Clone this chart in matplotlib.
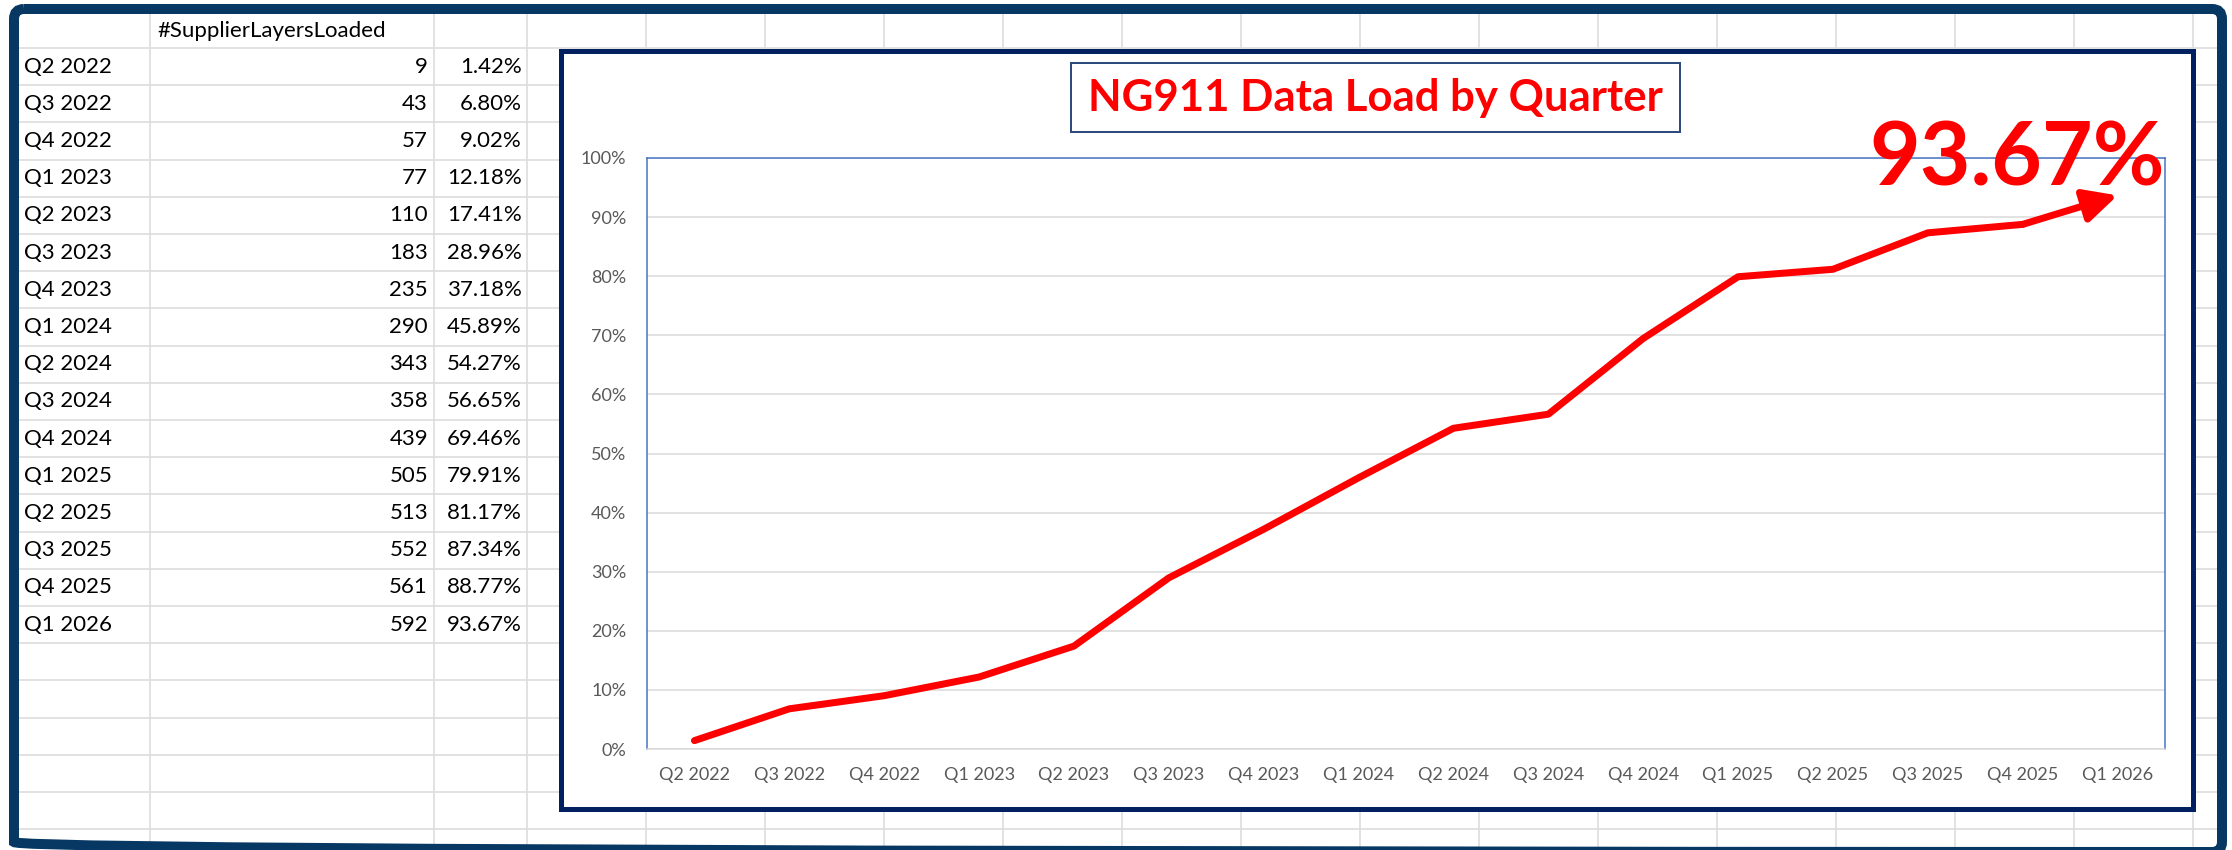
import numpy as np
import matplotlib.pyplot as plt
from matplotlib.patches import Rectangle, FancyBboxPatch

plt.rcParams['font.family'] = ['Lato', 'DejaVu Sans']

# data read from the sheet
quarters = ['Q2 2022', 'Q3 2022', 'Q4 2022', 'Q1 2023', 'Q2 2023', 'Q3 2023',
            'Q4 2023', 'Q1 2024', 'Q2 2024', 'Q3 2024', 'Q4 2024', 'Q1 2025',
            'Q2 2025', 'Q3 2025', 'Q4 2025', 'Q1 2026']
layers_loaded = [9, 43, 57, 77, 110, 183, 235, 290, 343, 358, 439, 505, 513, 552, 561, 592]
pct_loaded = [1.42, 6.80, 9.02, 12.18, 17.41, 28.96, 37.18, 45.89, 54.27, 56.65,
              69.46, 79.91, 81.17, 87.34, 88.77, 93.67]
header = '#SupplierLayersLoaded'
chart_title = 'NG911 Data Load by Quarter'

W, H = 2232, 850
PX = 0.72  # points per pixel at dpi 100

fig = plt.figure(figsize=(W / 100, H / 100), dpi=100)
bg = fig.add_axes([0, 0, 1, 1])
bg.set_xlim(0, W)
bg.set_ylim(H, 0)
bg.axis('off')

# spreadsheet grid
grid_col = '#dcdcdc'
col_x = [150, 434, 527] + [527 + 119 * k for k in range(1, 15)]
row_y = [48 + 37.2 * k for k in range(22)]
for cx in col_x:
    bg.plot([cx, cx], [14, 846], color=grid_col, lw=1.6 * PX, zorder=1)
for ry in row_y:
    bg.plot([19, 2217], [ry, ry], color=grid_col, lw=1.6 * PX, zorder=1)

# table text
fs = 16
bg.text(157, 31, header, fontsize=fs, va='center', ha='left', zorder=2)
for i, q in enumerate(quarters):
    yc = 48 + 37.2 * (i + 0.5)
    bg.text(24, yc, q, fontsize=fs, va='center', ha='left', zorder=2)
    bg.text(428, yc, str(layers_loaded[i]), fontsize=fs, va='center', ha='right', zorder=2)
    bg.text(522, yc, f'{pct_loaded[i]:.2f}%', fontsize=fs, va='center', ha='right', zorder=2)

# chart box
bg.add_patch(Rectangle((560.5, 50.5), 2192.5 - 560.5, 808.5 - 50.5,
                       fc='white', ec='#002060', lw=5 * PX, zorder=5))
bg.add_patch(Rectangle((1071, 63), 609, 69, fc='white', ec='#2F4A7C', lw=2 * PX, zorder=6))
bg.text(1375.5, 98, chart_title, color='#FF0000', fontsize=31.5, fontweight='bold',
        ha='center', va='center', zorder=7)

# outer border
bg.add_patch(FancyBboxPatch((14, 9), 2222 - 14, 852 - 9,
                            boxstyle='round,pad=0,rounding_size=10',
                            fc='none', ec='#073763', lw=10 * PX, zorder=8))

# plot area
ax = fig.add_axes([647 / W, 1 - 749 / H, (2165 - 647) / W, (749 - 158) / H])
ax.set_facecolor('none')
x = np.arange(len(quarters))
ax.plot(x[:-1], pct_loaded[:-1], color='#FF0000', lw=7 * PX,
        solid_joinstyle='round', solid_capstyle='round', zorder=3)
ax.annotate('', xy=(x[-1], pct_loaded[-1]), xytext=(x[-2], pct_loaded[-2]),
            arrowprops=dict(arrowstyle='-|>,head_length=1.0,head_width=0.5',
                            mutation_scale=20, color='#FF0000', lw=7 * PX,
                            shrinkA=0, shrinkB=0))
ax.set_xlim(-0.5, len(quarters) - 0.5)
ax.set_ylim(0, 100)
ax.set_yticks(np.arange(0, 101, 10))
ax.set_yticklabels([f'{v}%' for v in range(0, 101, 10)])
ax.set_xticks(x)
ax.set_xticklabels(quarters)
ax.tick_params(axis='both', length=0, labelsize=13, labelcolor='#595959')
ax.tick_params(axis='x', pad=13)
ax.tick_params(axis='y', pad=15)
ax.grid(axis='y', color='#d9d9d9', lw=1.5 * PX)
ax.set_axisbelow(True)
for s in ['left', 'top', 'right']:
    ax.spines[s].set_color('#4472C4')
    ax.spines[s].set_linewidth(1.5 * PX)
ax.spines['bottom'].set_color('#d9d9d9')
ax.spines['bottom'].set_linewidth(1.5 * PX)

fig.text(2165 / W, 1 - 186 / H, f'{pct_loaded[-1]:.2f}%', color='#FF0000',
         fontsize=63, fontweight='bold', ha='right', va='baseline')

fig.savefig('out.png', dpi=100, facecolor='white')
